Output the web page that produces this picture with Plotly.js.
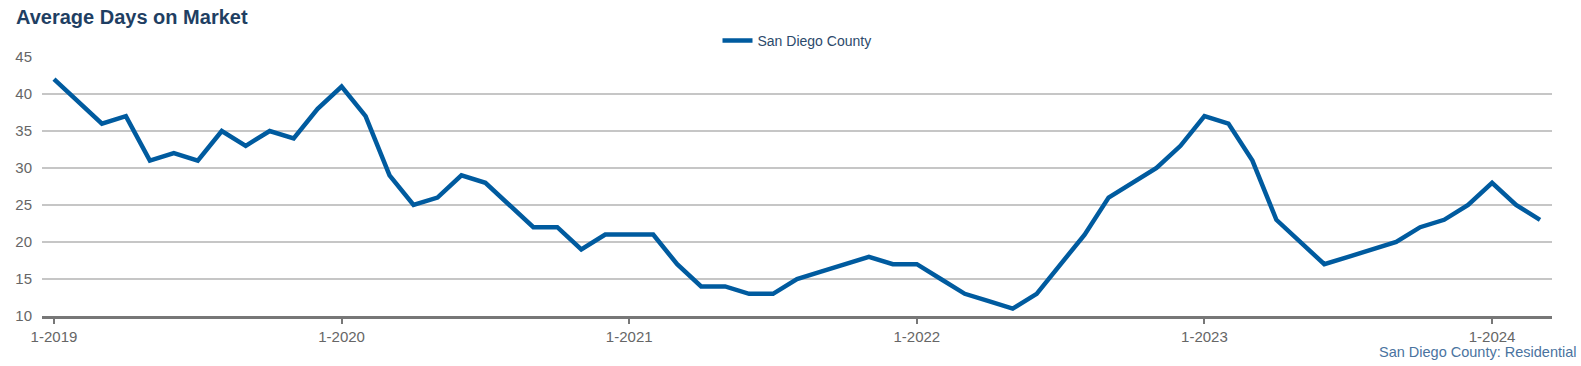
<!DOCTYPE html>
<html>
<head>
<meta charset="utf-8">
<script src="https://cdn.plot.ly/plotly-3.0.1.min.js"></script>
<style>html,body{margin:0;padding:0;background:#fff;}#chart{width:1581px;height:366px;}</style>
</head>
<body>
<div id="chart"></div>
<script>
// Monthly categories 1-2019 .. 3-2024
const months = [];
for (let y = 2019; y <= 2024; y++) {
  for (let m = 1; m <= 12; m++) {
    if (y === 2024 && m > 3) break;
    months.push(m + '-' + y);
  }
}
const seriesName = 'San Diego County';
const daysOnMarket = [
  42, 39, 36, 37, 31, 32, 31, 35, 33, 35, 34, 38,
  41, 37, 29, 25, 26, 29, 28, 25, 22, 22, 19, 21,
  21, 21, 17, 14, 14, 13, 13, 15, 16, 17, 18, 17,
  17, 15, 13, 12, 11, 13, 17, 21, 26, 28, 30, 33,
  37, 36, 31, 23, 20, 17, 18, 19, 20, 22, 23, 25,
  28, 25, 23
];
const tickLabels = ['1-2019', '1-2020', '1-2021', '1-2022', '1-2023', '1-2024'];
const yTicks = [10, 15, 20, 25, 30, 35, 40, 45];

const font = 'Liberation Sans, Arial, sans-serif';

Plotly.newPlot('chart', [{
  x: months,
  y: daysOnMarket,
  type: 'scatter',
  mode: 'lines',
  name: seriesName,
  line: {color: '#005b9f', width: 4.5}
}], {
  width: 1581, height: 366,
  margin: {l: 42, r: 29, t: 57, b: 50},
  paper_bgcolor: '#fff', plot_bgcolor: '#fff',
  font: {family: font, size: 14, color: '#666'},
  title: {
    text: '<b>Average Days on Market</b>',
    font: {family: font, size: 20, color: '#1f3f63'},
    xref: 'container', yref: 'container',
    x: 16/1581, xanchor: 'left', y: 1 - 17/366, yanchor: 'middle'
  },
  showlegend: true,
  legend: {
    orientation: 'h', x: 0.5, xanchor: 'center', y: 1.062, yanchor: 'middle',
    font: {family: font, size: 14, color: '#2c4a6b'}, bgcolor: 'rgba(0,0,0,0)'
  },
  xaxis: {
    type: 'category',
    range: [-0.5, 62.5],
    tickmode: 'array', tickvals: tickLabels, ticktext: tickLabels,
    showgrid: false, zeroline: false,
    showline: true, linecolor: '#777', linewidth: 3,
    ticks: 'outside', ticklen: 5, tickwidth: 2, tickcolor: '#777',
    tickfont: {family: font, size: 15, color: '#666'}
  },
  yaxis: {
    range: [10, 45],
    tickmode: 'array', tickvals: yTicks,
    showgrid: true, gridcolor: '#c6c6c6', gridwidth: 1.5,
    zeroline: false, showline: false,
    ticks: '', ticklabelstandoff: 9,
    tickfont: {family: font, size: 15, color: '#666'}
  },
  annotations: [{
    text: 'San Diego County: Residential',
    xref: 'paper', yref: 'paper',
    x: (1578 - 42) / 1510, xanchor: 'right',
    y: -(352 - 316) / 259, yanchor: 'middle',
    showarrow: false,
    font: {family: font, size: 14.5, color: '#4a73a0'}
  }]
}, {displayModeBar: false, staticPlot: true});
</script>
</body>
</html>
